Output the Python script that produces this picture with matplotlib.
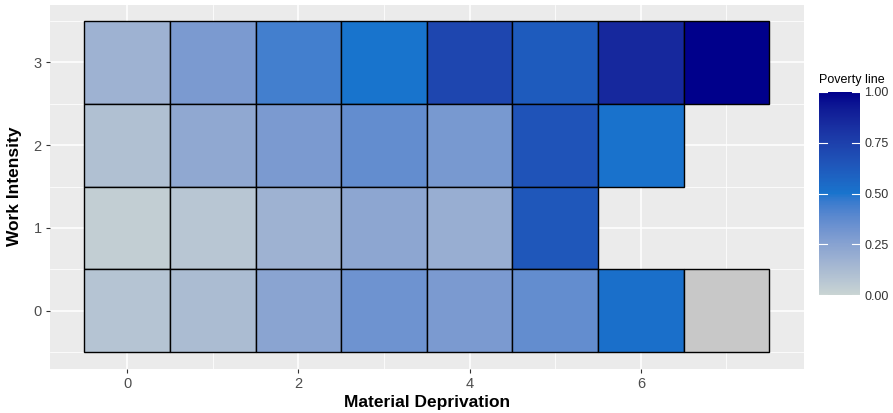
import numpy as np
import matplotlib
matplotlib.use("Agg")
import matplotlib.pyplot as plt
from matplotlib.colors import ListedColormap, Normalize, to_rgb
from matplotlib.colorbar import ColorbarBase

plt.rcParams["font.family"] = ["Liberation Sans", "DejaVu Sans"]

# cells: material deprivation (x), work intensity (y), share under poverty line
deprivation = [0, 1, 2, 3, 4, 5, 6, 7,
               0, 1, 2, 3, 4, 5, 6,
               0, 1, 2, 3, 4, 5,
               0, 1, 2, 3, 4, 5, 6, 7]
intensity = [3, 3, 3, 3, 3, 3, 3, 3,
             2, 2, 2, 2, 2, 2, 2,
             1, 1, 1, 1, 1, 1,
             0, 0, 0, 0, 0, 0, 0, 0]
poverty = [0.17, 0.29, 0.44, 0.50, 0.72, 0.62, 0.86, 1.00,
           0.10, 0.22, 0.29, 0.36, 0.30, 0.66, 0.51,
           0.03, 0.07, 0.17, 0.23, 0.19, 0.64,
           0.08, 0.12, 0.24, 0.33, 0.29, 0.36, 0.52, None]

x_ticks = [0, 2, 4, 6]
y_ticks = [0, 1, 2, 3]
bar_ticks = [0.0, 0.25, 0.5, 0.75, 1.0]


# gradient2-like colour scale, interpolated in Lab space
def to_lab(rgb):
    c = np.asarray(rgb, float)
    c = np.where(c > 0.04045, ((c + 0.055) / 1.055) ** 2.4, c / 12.92)
    m = np.array([[0.4124, 0.3576, 0.1805],
                  [0.2126, 0.7152, 0.0722],
                  [0.0193, 0.1192, 0.9505]])
    xyz = m @ c / np.array([0.95047, 1.0, 1.08883])
    f = np.where(xyz > 0.008856, np.cbrt(xyz), 7.787 * xyz + 16 / 116)
    return np.array([116 * f[1] - 16, 500 * (f[0] - f[1]), 200 * (f[1] - f[2])])


def from_lab(lab):
    fy = (lab[0] + 16) / 116
    fx = fy + lab[1] / 500
    fz = fy - lab[2] / 200
    f = np.array([fx, fy, fz])
    xyz = np.where(f ** 3 > 0.008856, f ** 3, (f - 16 / 116) / 7.787)
    xyz = xyz * np.array([0.95047, 1.0, 1.08883])
    m = np.array([[3.2406, -1.5372, -0.4986],
                  [-0.9689, 1.8758, 0.0415],
                  [0.0557, -0.2040, 1.0570]])
    c = m @ xyz
    c = np.where(c > 0.0031308, 1.055 * np.clip(c, 0, None) ** (1 / 2.4) - 0.055, 12.92 * c)
    return np.clip(c, 0, 1)


low, mid, high = to_lab(to_rgb("#C9D4D3")), to_lab(to_rgb("#1874CD")), to_lab(to_rgb("#00008B"))
cols = []
for t in np.linspace(0, 1, 256):
    if t < 0.5:
        cols.append(from_lab(low + (mid - low) * t * 2))
    else:
        cols.append(from_lab(mid + (high - mid) * (t - 0.5) * 2))
cmap = ListedColormap(cols)
norm = Normalize(0, 1)

fig = plt.figure(figsize=(8.93, 4.13), dpi=100)
ax = fig.add_axes([50 / 893, 1 - 368.5 / 413, 753.5 / 893, 364 / 413])
ax.set_facecolor("#EBEBEB")

fills = [cmap(norm(v)) if v is not None else "#C8C8C8" for v in poverty]
ax.bar(deprivation, [1] * len(poverty), width=1, bottom=[y - 0.5 for y in intensity],
       color=fills, edgecolor="black", linewidth=1.0, zorder=3)

ax.set_xlim(-0.9, 7.9)
ax.set_ylim(-0.7, 3.7)
ax.set_xticks(x_ticks)
ax.set_yticks(y_ticks)
ax.set_xticks([1, 3, 5, 7], minor=True)
ax.set_yticks([-0.5, 0.5, 1.5, 2.5, 3.5], minor=True)
ax.grid(which="major", color="white", linewidth=1.1, zorder=0)
ax.grid(which="minor", color="white", linewidth=0.55, zorder=0)
ax.set_axisbelow(True)
for s in ax.spines.values():
    s.set_visible(False)
ax.tick_params(which="major", length=3, color="#333333", labelcolor="#4D4D4D", labelsize=10.5, width=0.8, pad=3)
ax.tick_params(which="minor", length=0)
ax.set_xlabel("Material Deprivation", fontsize=12.5, fontweight="bold", labelpad=3)
ax.set_ylabel("Work Intensity", fontsize=12.5, fontweight="bold", labelpad=8)

cax = fig.add_axes([819 / 893, 1 - 295 / 413, 41 / 893, 203 / 413])
cb = ColorbarBase(cax, cmap=cmap, norm=norm, orientation="vertical", ticks=bar_ticks)
cb.outline.set_visible(False)
cb.ax.set_yticklabels(["0.00", "0.25", "0.50", "0.75", "1.00"])
cb.ax.tick_params(length=0, labelsize=9, labelcolor="#333333", pad=3)
for t in bar_ticks:
    cax.plot([0, 0.2], [t, t], color="white", lw=0.8, transform=cax.get_yaxis_transform())
    cax.plot([0.8, 1], [t, t], color="white", lw=0.8, transform=cax.get_yaxis_transform())
cax.text(0, 1.03, "Poverty line", fontsize=9, transform=cax.transAxes, ha="left", va="bottom")

fig.savefig("out.png", dpi=100)
